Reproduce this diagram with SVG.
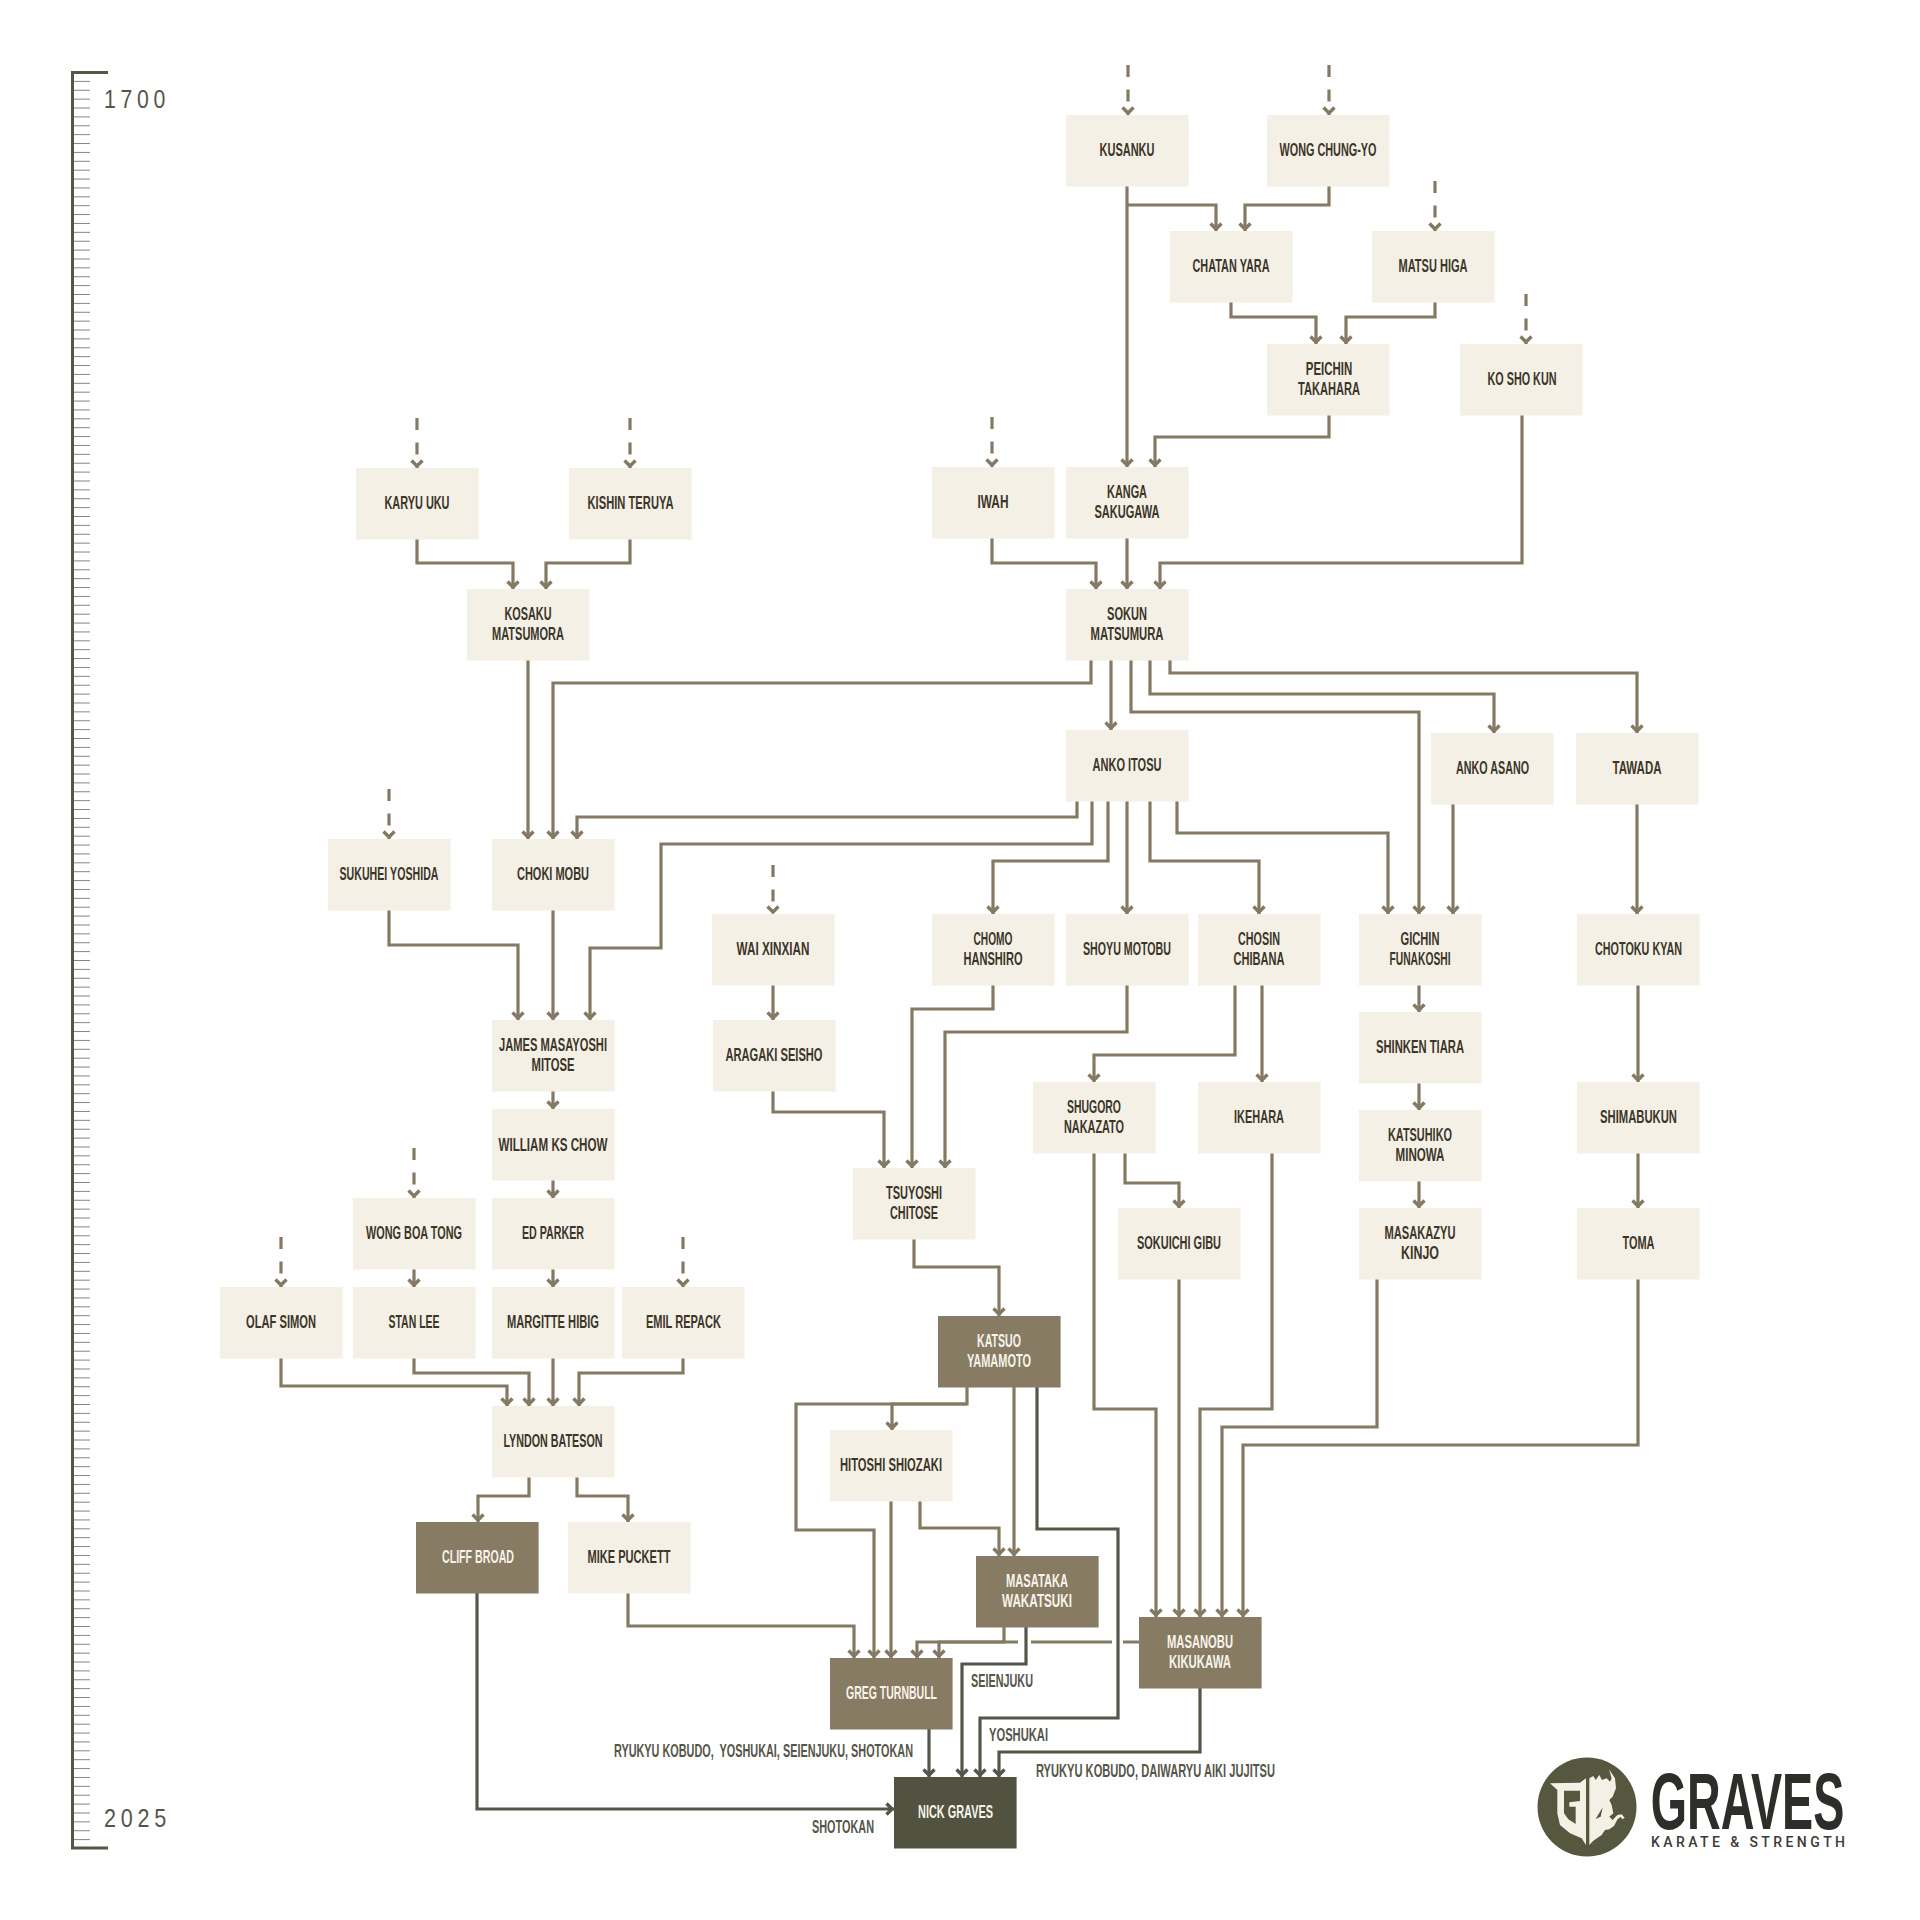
<svg xmlns="http://www.w3.org/2000/svg" width="1920" height="1920" viewBox="0 0 1920 1920">
<style>
.n{fill:#f5f0e6}.b{fill:#877b63}.k{fill:#515340}
.n,.b,.k{width:122.6px;height:71.5px}
text{font-family:"Liberation Sans",sans-serif;font-weight:700;font-size:18px;text-anchor:middle;fill:#3b3629}
g>rect~text{transform:translateY(-.4px)}
.w{fill:#f7f3ea}
.l{fill:#55564a;text-anchor:start;font-weight:700}
.y{font-weight:400;font-size:25px;text-anchor:start;fill:#55564a}
.c,.d,.e{fill:none;stroke-width:3.2;stroke-linejoin:miter}
.c{stroke:#847a64;marker-end:url(#a)}
.d{stroke:#55564a;marker-end:url(#b)}
.e{stroke:#847a64;stroke-dasharray:12 12.5;marker-end:url(#a)}
.f{fill:none;stroke:#847a64;stroke-width:3.2}
</style>
<defs>
<marker id="a" markerUnits="userSpaceOnUse" viewBox="-12 -10 14 20" refX="0" refY="0" markerWidth="14" markerHeight="20" orient="auto"><path d="M-7.5,-5.5L-2,0L-7.5,5.5" fill="none" stroke="#847a64" stroke-width="3.4"/></marker>
<marker id="b" markerUnits="userSpaceOnUse" viewBox="-12 -10 14 20" refX="0" refY="0" markerWidth="14" markerHeight="20" orient="auto"><path d="M-7.5,-5.5L-2,0L-7.5,5.5" fill="none" stroke="#55564a" stroke-width="3.4"/></marker>
<pattern id="tk" patternUnits="userSpaceOnUse" x="72" y="72" width="18" height="8.88"><line x1="0" x2="18" y1="0.5" y2="0.5" stroke="#85857a" stroke-width="1"/></pattern>
</defs>
<rect width="1920" height="1920" fill="#fff"/>
<g id="timeline">
<rect x="73" y="73" width="17" height="1774" fill="url(#tk)"/>
<path d="M108,72.500H72.500V1848H108" fill="none" stroke="#55564a" stroke-width="3"/>
<text class="y" x="104" y="108" letter-spacing="5.500" textLength="66" lengthAdjust="spacingAndGlyphs">1700</text>
<text class="y" x="104" y="1827" letter-spacing="5.500" textLength="67" lengthAdjust="spacingAndGlyphs">2025</text>
</g>
<g id="connectors">
<path class="e" d="M1128,65V115"/><path class="e" d="M1329,65V115"/><path class="e" d="M1435,181V231"/><path class="e" d="M1526,294V344"/>
<path class="e" d="M417,418V468"/><path class="e" d="M630,418V468"/><path class="e" d="M992,417V467"/><path class="e" d="M389,789V839"/>
<path class="e" d="M773,865V914"/><path class="e" d="M414,1148V1198"/><path class="e" d="M281,1237V1287"/><path class="e" d="M683,1237V1287"/>
<path class="c" d="M1127,186V467"/>
<path class="c" d="M1127,205H1216V231"/>
<path class="c" d="M1329,186V205H1245V231"/>
<path class="c" d="M1231,302V317H1316V344"/>
<path class="c" d="M1435,302V317H1346V344"/>
<path class="c" d="M1329,415V437H1155V467"/>
<path class="c" d="M1522,415V563H1160V589"/>
<path class="c" d="M992,538V563H1096V589"/>
<path class="c" d="M1127,538V589"/>
<path class="c" d="M417,539V563H513V589"/>
<path class="c" d="M630,539V563H546V589"/>
<path class="c" d="M528,660V839"/>
<path class="c" d="M1091,660V683H553V839"/>
<path class="c" d="M1111,660V730"/>
<path class="c" d="M1131,660V712H1419V914"/>
<path class="c" d="M1150,660V694H1494V733"/>
<path class="c" d="M1170,660V673H1637V733"/>
<path class="c" d="M1077,801V817H577V839"/>
<path class="c" d="M1092,801V844H661V948H590V1020"/>
<path class="c" d="M1108,801V861H993V914"/>
<path class="c" d="M1127,801V914"/>
<path class="c" d="M1150,801V861H1259V914"/>
<path class="c" d="M1177,801V833H1388V914"/>
<path class="c" d="M1453,804V914"/>
<path class="c" d="M1637,804V914"/>
<path class="c" d="M1638,985V1082"/>
<path class="c" d="M1638,1153V1208"/>
<path class="c" d="M389,910V945H518V1020"/>
<path class="c" d="M553,910V1020"/>
<path class="c" d="M773,985V1020"/>
<path class="c" d="M553,1091V1109"/>
<path class="c" d="M553,1180V1198"/>
<path class="c" d="M553,1269V1287"/>
<path class="c" d="M414,1269V1287"/>
<path class="c" d="M773,1091V1112H884V1168"/>
<path class="c" d="M993,985V1009H912V1168"/>
<path class="c" d="M1127,985V1032H945V1168"/>
<path class="c" d="M1235,985V1055H1094V1082"/>
<path class="c" d="M1262,985V1082"/>
<path class="c" d="M1419,985V1012"/>
<path class="c" d="M1419,1083V1110"/>
<path class="c" d="M1419,1181V1208"/>
<path class="c" d="M914,1239V1267H999V1316"/>
<path class="c" d="M1125,1153V1183H1179V1208"/>
<path class="c" d="M1094,1153V1409H1156V1617"/>
<path class="c" d="M1179,1279V1617"/>
<path class="c" d="M1272,1153V1409H1200V1617"/>
<path class="c" d="M1377,1279V1427H1222V1617"/>
<path class="c" d="M1638,1279V1445H1243V1617"/>
<path class="c" d="M414,1358V1373H529V1406"/>
<path class="c" d="M281,1358V1386H507V1406"/>
<path class="c" d="M553,1358V1406"/>
<path class="c" d="M683,1358V1373H579V1406"/>
<path class="c" d="M529,1477V1496H478V1522"/>
<path class="c" d="M577,1477V1496H628V1522"/>
<path class="c" d="M967,1387V1404H892V1430"/>
<path class="c" d="M967,1404H796V1530H874V1658"/>
<path class="c" d="M1014,1387V1556"/>
<path class="d" d="M1037,1387V1529H1118V1718H980V1777"/>
<path class="c" d="M891,1501V1658"/>
<path class="c" d="M920,1501V1528H999V1556"/>
<path class="c" d="M628,1593V1626H854V1658"/>
<path class="c" d="M1004,1627V1642H917V1658"/>
<path class="c" d="M1018,1642H939V1658"/>
<path class="f" d="M1031,1642H1112M1123,1642H1139"/>
<path class="d" d="M1026,1627V1664H962V1777"/>
<path class="d" d="M929,1729V1777"/>
<path class="d" d="M1200,1688V1752H999V1777"/>
<path class="d" d="M477,1593V1809H894"/>
</g>
<g id="kusanku"><rect class="n" x="1066" y="115" width="122" height="71"/><text x="1127" y="156.500" textLength="55" lengthAdjust="spacingAndGlyphs">KUSANKU</text></g>
<g id="wong-chung-yo"><rect class="n" x="1267" y="115" width="122" height="71"/><text x="1328" y="156.500" textLength="97" lengthAdjust="spacingAndGlyphs">WONG CHUNG-YO</text></g>
<g id="chatan-yara"><rect class="n" x="1170" y="231" width="122" height="71"/><text x="1231" y="272.500" textLength="77" lengthAdjust="spacingAndGlyphs">CHATAN YARA</text></g>
<g id="matsu-higa"><rect class="n" x="1372" y="231" width="122" height="71"/><text x="1433" y="272.500" textLength="69" lengthAdjust="spacingAndGlyphs">MATSU HIGA</text></g>
<g id="peichin-takahara"><rect class="n" x="1267" y="344" width="122" height="71"/><text x="1329" y="375.500" textLength="46.500" lengthAdjust="spacingAndGlyphs">PEICHIN</text><text x="1329" y="395.500" textLength="62" lengthAdjust="spacingAndGlyphs">TAKAHARA</text></g>
<g id="ko-sho-kun"><rect class="n" x="1460" y="344" width="122" height="71"/><text x="1522" y="385.500" textLength="69" lengthAdjust="spacingAndGlyphs">KO SHO KUN</text></g>
<g id="karyu-uku"><rect class="n" x="356" y="468" width="122" height="71"/><text x="417" y="509.500" textLength="65" lengthAdjust="spacingAndGlyphs">KARYU UKU</text></g>
<g id="kishin-teruya"><rect class="n" x="569" y="468" width="122" height="71"/><text x="630.500" y="509.500" textLength="86" lengthAdjust="spacingAndGlyphs">KISHIN TERUYA</text></g>
<g id="iwah"><rect class="n" x="932" y="467" width="122" height="71"/><text x="993" y="508.500" textLength="31" lengthAdjust="spacingAndGlyphs">IWAH</text></g>
<g id="kanga-sakugawa"><rect class="n" x="1066" y="467" width="122" height="71"/><text x="1127" y="498.500" textLength="40" lengthAdjust="spacingAndGlyphs">KANGA</text><text x="1127" y="518.500" textLength="65" lengthAdjust="spacingAndGlyphs">SAKUGAWA</text></g>
<g id="kosaku-matsumora"><rect class="n" x="467" y="589" width="122" height="71"/><text x="528" y="620.500" textLength="47" lengthAdjust="spacingAndGlyphs">KOSAKU</text><text x="528" y="640.500" textLength="72" lengthAdjust="spacingAndGlyphs">MATSUMORA</text></g>
<g id="sokun-matsumura"><rect class="n" x="1066" y="589" width="122" height="71"/><text x="1127" y="620.500" textLength="40" lengthAdjust="spacingAndGlyphs">SOKUN</text><text x="1127" y="640.500" textLength="73" lengthAdjust="spacingAndGlyphs">MATSUMURA</text></g>
<g id="anko-itosu"><rect class="n" x="1066" y="730" width="122" height="71"/><text x="1127" y="771.500" textLength="69" lengthAdjust="spacingAndGlyphs">ANKO ITOSU</text></g>
<g id="anko-asano"><rect class="n" x="1431" y="733" width="122" height="71"/><text x="1492.500" y="774.500" textLength="73" lengthAdjust="spacingAndGlyphs">ANKO ASANO</text></g>
<g id="tawada"><rect class="n" x="1576" y="733" width="122" height="71"/><text x="1637" y="774.500" textLength="49" lengthAdjust="spacingAndGlyphs">TAWADA</text></g>
<g id="sukuhei-yoshida"><rect class="n" x="328" y="839" width="122" height="71"/><text x="389" y="880.500" textLength="99" lengthAdjust="spacingAndGlyphs">SUKUHEI YOSHIDA</text></g>
<g id="choki-mobu"><rect class="n" x="492" y="839" width="122" height="71"/><text x="553" y="880.500" textLength="72" lengthAdjust="spacingAndGlyphs">CHOKI MOBU</text></g>
<g id="wai-xinxian"><rect class="n" x="712" y="914" width="122" height="71"/><text x="773" y="955.500" textLength="73" lengthAdjust="spacingAndGlyphs">WAI XINXIAN</text></g>
<g id="chomo-hanshiro"><rect class="n" x="932" y="914" width="122" height="71"/><text x="993" y="945.500" textLength="39" lengthAdjust="spacingAndGlyphs">CHOMO</text><text x="993" y="965.500" textLength="59" lengthAdjust="spacingAndGlyphs">HANSHIRO</text></g>
<g id="shoyu-motobu"><rect class="n" x="1066" y="914" width="122" height="71"/><text x="1127" y="955.500" textLength="88" lengthAdjust="spacingAndGlyphs">SHOYU MOTOBU</text></g>
<g id="chosin-chibana"><rect class="n" x="1198" y="914" width="122" height="71"/><text x="1259" y="945.500" textLength="42" lengthAdjust="spacingAndGlyphs">CHOSIN</text><text x="1259" y="965.500" textLength="51" lengthAdjust="spacingAndGlyphs">CHIBANA</text></g>
<g id="gichin-funakoshi"><rect class="n" x="1359" y="914" width="122" height="71"/><text x="1420" y="945.500" textLength="39" lengthAdjust="spacingAndGlyphs">GICHIN</text><text x="1420" y="965.500" textLength="61" lengthAdjust="spacingAndGlyphs">FUNAKOSHI</text></g>
<g id="chotoku-kyan"><rect class="n" x="1577" y="914" width="122" height="71"/><text x="1638.500" y="955.500" textLength="87" lengthAdjust="spacingAndGlyphs">CHOTOKU KYAN</text></g>
<g id="james-mitose"><rect class="n" x="492" y="1020" width="122" height="71"/><text x="553" y="1051.500" textLength="108" lengthAdjust="spacingAndGlyphs">JAMES MASAYOSHI</text><text x="553" y="1071.500" textLength="43" lengthAdjust="spacingAndGlyphs">MITOSE</text></g>
<g id="aragaki-seisho"><rect class="n" x="713" y="1020" width="122" height="71"/><text x="774" y="1061.500" textLength="97" lengthAdjust="spacingAndGlyphs">ARAGAKI SEISHO</text></g>
<g id="shinken-tiara"><rect class="n" x="1359" y="1012" width="122" height="71"/><text x="1420" y="1053.500" textLength="88" lengthAdjust="spacingAndGlyphs">SHINKEN TIARA</text></g>
<g id="shugoro-nakazato"><rect class="n" x="1033" y="1082" width="122" height="71"/><text x="1094" y="1113.500" textLength="54" lengthAdjust="spacingAndGlyphs">SHUGORO</text><text x="1094" y="1133.500" textLength="60" lengthAdjust="spacingAndGlyphs">NAKAZATO</text></g>
<g id="ikehara"><rect class="n" x="1198" y="1082" width="122" height="71"/><text x="1259" y="1123.500" textLength="50" lengthAdjust="spacingAndGlyphs">IKEHARA</text></g>
<g id="shimabukun"><rect class="n" x="1577" y="1082" width="122" height="71"/><text x="1638.500" y="1123.500" textLength="77" lengthAdjust="spacingAndGlyphs">SHIMABUKUN</text></g>
<g id="katsuhiko-minowa"><rect class="n" x="1359" y="1110" width="122" height="71"/><text x="1420" y="1141.500" textLength="64" lengthAdjust="spacingAndGlyphs">KATSUHIKO</text><text x="1420" y="1161.500" textLength="49" lengthAdjust="spacingAndGlyphs">MINOWA</text></g>
<g id="william-ks-chow"><rect class="n" x="492" y="1109" width="122" height="71"/><text x="553" y="1151" textLength="109" lengthAdjust="spacingAndGlyphs">WILLIAM KS CHOW</text></g>
<g id="tsuyoshi-chitose"><rect class="n" x="853" y="1168" width="122" height="71"/><text x="914" y="1199.500" textLength="56" lengthAdjust="spacingAndGlyphs">TSUYOSHI</text><text x="914" y="1219.500" textLength="48" lengthAdjust="spacingAndGlyphs">CHITOSE</text></g>
<g id="wong-boa-tong"><rect class="n" x="353" y="1198" width="122" height="71"/><text x="414" y="1239.500" textLength="96" lengthAdjust="spacingAndGlyphs">WONG BOA TONG</text></g>
<g id="ed-parker"><rect class="n" x="492" y="1198" width="122" height="71"/><text x="553" y="1239.500" textLength="62" lengthAdjust="spacingAndGlyphs">ED PARKER</text></g>
<g id="sokuichi-gibu"><rect class="n" x="1118" y="1208" width="122" height="71"/><text x="1179" y="1249.500" textLength="84" lengthAdjust="spacingAndGlyphs">SOKUICHI GIBU</text></g>
<g id="masakazyu-kinjo"><rect class="n" x="1359" y="1208" width="122" height="71"/><text x="1420" y="1239.500" textLength="71" lengthAdjust="spacingAndGlyphs">MASAKAZYU</text><text x="1420" y="1259.500" textLength="38" lengthAdjust="spacingAndGlyphs">KINJO</text></g>
<g id="toma"><rect class="n" x="1577" y="1208" width="122" height="71"/><text x="1638.500" y="1249.500" textLength="32" lengthAdjust="spacingAndGlyphs">TOMA</text></g>
<g id="olaf-simon"><rect class="n" x="220" y="1287" width="122" height="71"/><text x="281" y="1328.500" textLength="70" lengthAdjust="spacingAndGlyphs">OLAF SIMON</text></g>
<g id="stan-lee"><rect class="n" x="353" y="1287" width="122" height="71"/><text x="414" y="1328.500" textLength="51" lengthAdjust="spacingAndGlyphs">STAN LEE</text></g>
<g id="margitte-hibig"><rect class="n" x="492" y="1287" width="122" height="71"/><text x="553" y="1328.500" textLength="92" lengthAdjust="spacingAndGlyphs">MARGITTE HIBIG</text></g>
<g id="emil-repack"><rect class="n" x="622" y="1287" width="122" height="71"/><text x="683.500" y="1328.500" textLength="75" lengthAdjust="spacingAndGlyphs">EMIL REPACK</text></g>
<g id="katsuo-yamamoto"><rect class="b" x="938" y="1316" width="122" height="71"/><text class="w" x="999" y="1347.500" textLength="44" lengthAdjust="spacingAndGlyphs">KATSUO</text><text class="w" x="999" y="1367.500" textLength="64" lengthAdjust="spacingAndGlyphs">YAMAMOTO</text></g>
<g id="hitoshi-shiozaki"><rect class="n" x="830" y="1430" width="122" height="71"/><text x="891" y="1471.500" textLength="102" lengthAdjust="spacingAndGlyphs">HITOSHI SHIOZAKI</text></g>
<g id="lyndon-bateson"><rect class="n" x="492" y="1406" width="122" height="71"/><text x="553" y="1447.500" textLength="99" lengthAdjust="spacingAndGlyphs">LYNDON BATESON</text></g>
<g id="cliff-broad"><rect class="b" x="416" y="1522" width="122" height="71"/><text class="w" x="478" y="1563.500" textLength="72" lengthAdjust="spacingAndGlyphs">CLIFF BROAD</text></g>
<g id="mike-puckett"><rect class="n" x="568" y="1522" width="122" height="71"/><text x="629" y="1563.500" textLength="83" lengthAdjust="spacingAndGlyphs">MIKE PUCKETT</text></g>
<g id="masataka-wakatsuki"><rect class="b" x="976" y="1556" width="122" height="71"/><text class="w" x="1037" y="1587.500" textLength="62" lengthAdjust="spacingAndGlyphs">MASATAKA</text><text class="w" x="1037" y="1607.500" textLength="70" lengthAdjust="spacingAndGlyphs">WAKATSUKI</text></g>
<g id="masanobu-kikukawa"><rect class="b" x="1139" y="1617" width="122" height="71"/><text class="w" x="1200" y="1648.500" textLength="66" lengthAdjust="spacingAndGlyphs">MASANOBU</text><text class="w" x="1200" y="1668.500" textLength="62" lengthAdjust="spacingAndGlyphs">KIKUKAWA</text></g>
<g id="greg-turnbull"><rect class="b" x="830" y="1658" width="122" height="71"/><text class="w" x="891.500" y="1699.500" textLength="91" lengthAdjust="spacingAndGlyphs">GREG TURNBULL</text></g>
<g id="nick-graves"><rect class="k" x="894" y="1777" width="122" height="71"/><text class="w" x="955.500" y="1818.500" textLength="75" lengthAdjust="spacingAndGlyphs">NICK GRAVES</text></g>
<g id="labels">
<text class="l" x="971" y="1687" textLength="62" lengthAdjust="spacingAndGlyphs">SEIENJUKU</text>
<text class="l" x="989" y="1741" textLength="59" lengthAdjust="spacingAndGlyphs">YOSHUKAI</text>
<text class="l" x="1036" y="1777" textLength="239" lengthAdjust="spacingAndGlyphs">RYUKYU KOBUDO, DAIWARYU AIKI JUJITSU</text>
<text class="l" x="614" y="1757" textLength="299" lengthAdjust="spacingAndGlyphs" xml:space="preserve">RYUKYU KOBUDO,  YOSHUKAI, SEIENJUKU, SHOTOKAN</text>
<text class="l" x="812" y="1833" textLength="62" lengthAdjust="spacingAndGlyphs">SHOTOKAN</text>
</g>
<g id="logo">
<circle cx="1587" cy="1807" r="49.500" fill="#55583f"/>
<g transform="translate(1530 1750) scale(.3333)" fill="#f5f0e6">
<path fill-rule="evenodd" d="M60,100L150,98L168,85V285L155,265L120,250L90,225L82,190V120ZM102,122H150V153L118,157V170H137V222L115,208L102,190Z"/>
<path fill-rule="evenodd" d="M178,85L190,78L197,90L208,75L216,90L230,85L240,95L245,85L237,58L255,85L258,115L248,140L238,150L245,165L250,190L238,200L248,210L262,195L275,193L284,203L277,208L272,201L263,207L252,228L238,238L225,240L215,255L190,272L178,285ZM197,207L218,172L212,200Z"/>
</g>
<text x="1747.500" y="1829" textLength="193.500" lengthAdjust="spacingAndGlyphs" style="font-size:79px;fill:#2e2d2a">GRAVES</text>
<text x="1748" y="1847" textLength="194" style="font-size:14px;font-family:'Roboto',sans-serif;font-weight:500;fill:#3a3a36">KARATE &amp; STRENGTH</text>
</g>
</svg>
